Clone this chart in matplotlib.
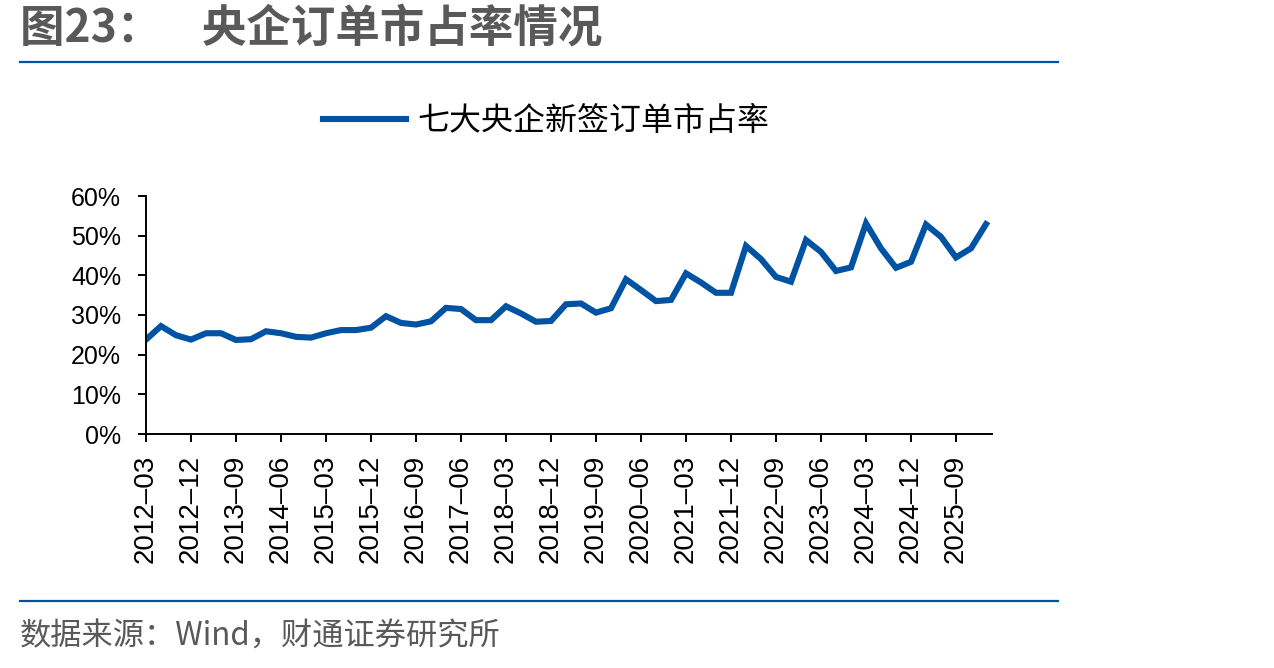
import matplotlib.pyplot as plt
import numpy as np

plt.rcParams['font.family'] = ['Liberation Sans', 'Noto Sans CJK SC', 'DejaVu Sans']

# quarterly periods 2012-03 .. 2026-03
years = [2012 + i // 4 for i in range(57)]
months = ['03', '06', '09', '12']
periods = ['{}–{}'.format(years[i], months[i % 4]) for i in range(57)]

share = [23.8, 27.2, 24.9, 23.8, 25.4, 25.4, 23.7, 23.9, 25.9, 25.4,
         24.5, 24.3, 25.4, 26.2, 26.2, 26.8, 29.7, 28.0, 27.6, 28.4,
         31.8, 31.5, 28.7, 28.7, 32.2, 30.4, 28.3, 28.5, 32.7, 32.9,
         30.6, 31.7, 39.0, 36.3, 33.5, 33.8, 40.5, 38.2, 35.6, 35.6,
         47.4, 44.1, 39.6, 38.4, 48.9, 45.9, 41.1, 42.0, 53.1, 46.8,
         41.9, 43.4, 52.8, 49.7, 44.5, 46.8, 52.9]

blue = '#0052a3'
gray = '#595959'

fig = plt.figure(figsize=(12.74, 6.68), dpi=100)
ax = fig.add_axes([146 / 1274, 1 - 434 / 668, (992 - 146) / 1274, (434 - 196) / 668])

x = np.arange(len(share))
ax.plot(x, share, color=blue, lw=4.4, solid_joinstyle='miter', label='七大央企新签订单市占率')

ax.set_xlim(0, 56.4)
ax.set_ylim(0, 60)
ax.set_yticks(range(0, 61, 10))
ax.set_yticklabels(['{}%'.format(v) for v in range(0, 61, 10)], fontsize=18)
ax.set_xticks(x[::3])
ax.set_xticklabels(periods[::3], rotation=90, fontsize=20)
for s in ['top', 'right']:
    ax.spines[s].set_visible(False)
for s in ['left', 'bottom']:
    ax.spines[s].set_linewidth(1.4)
ax.tick_params(axis='both', length=6, width=1.4)
ax.tick_params(axis='y', pad=12)
ax.tick_params(axis='x', pad=9)

# legend
fig.legend(loc='center', bbox_to_anchor=(546 / 1274, 1 - 121 / 668), frameon=False,
           handlelength=2.6, handletextpad=0.35,
           prop={'family': ['Noto Sans CJK SC'], 'size': 23})

# title, rules, source
fig.text(20 / 1274, 1 - 29 / 668, '图23：    央企订单市占率情况', fontsize=32, fontweight='bold',
         color=gray, va='center', ha='left', family=['Noto Sans CJK SC'])
fig.add_artist(plt.Line2D([20 / 1274, 1058 / 1274], [1 - 62 / 668] * 2, color=blue, lw=1.6))
fig.add_artist(plt.Line2D([20 / 1274, 1058 / 1274], [1 - 601 / 668] * 2, color=blue, lw=1.6))
fig.text(20 / 1274, 1 - 637 / 668, '数据来源：Wind，财通证券研究所', fontsize=22.5,
         color=gray, va='center', ha='left', family=['Noto Sans CJK SC'])

fig.savefig('out.png', dpi=100)
